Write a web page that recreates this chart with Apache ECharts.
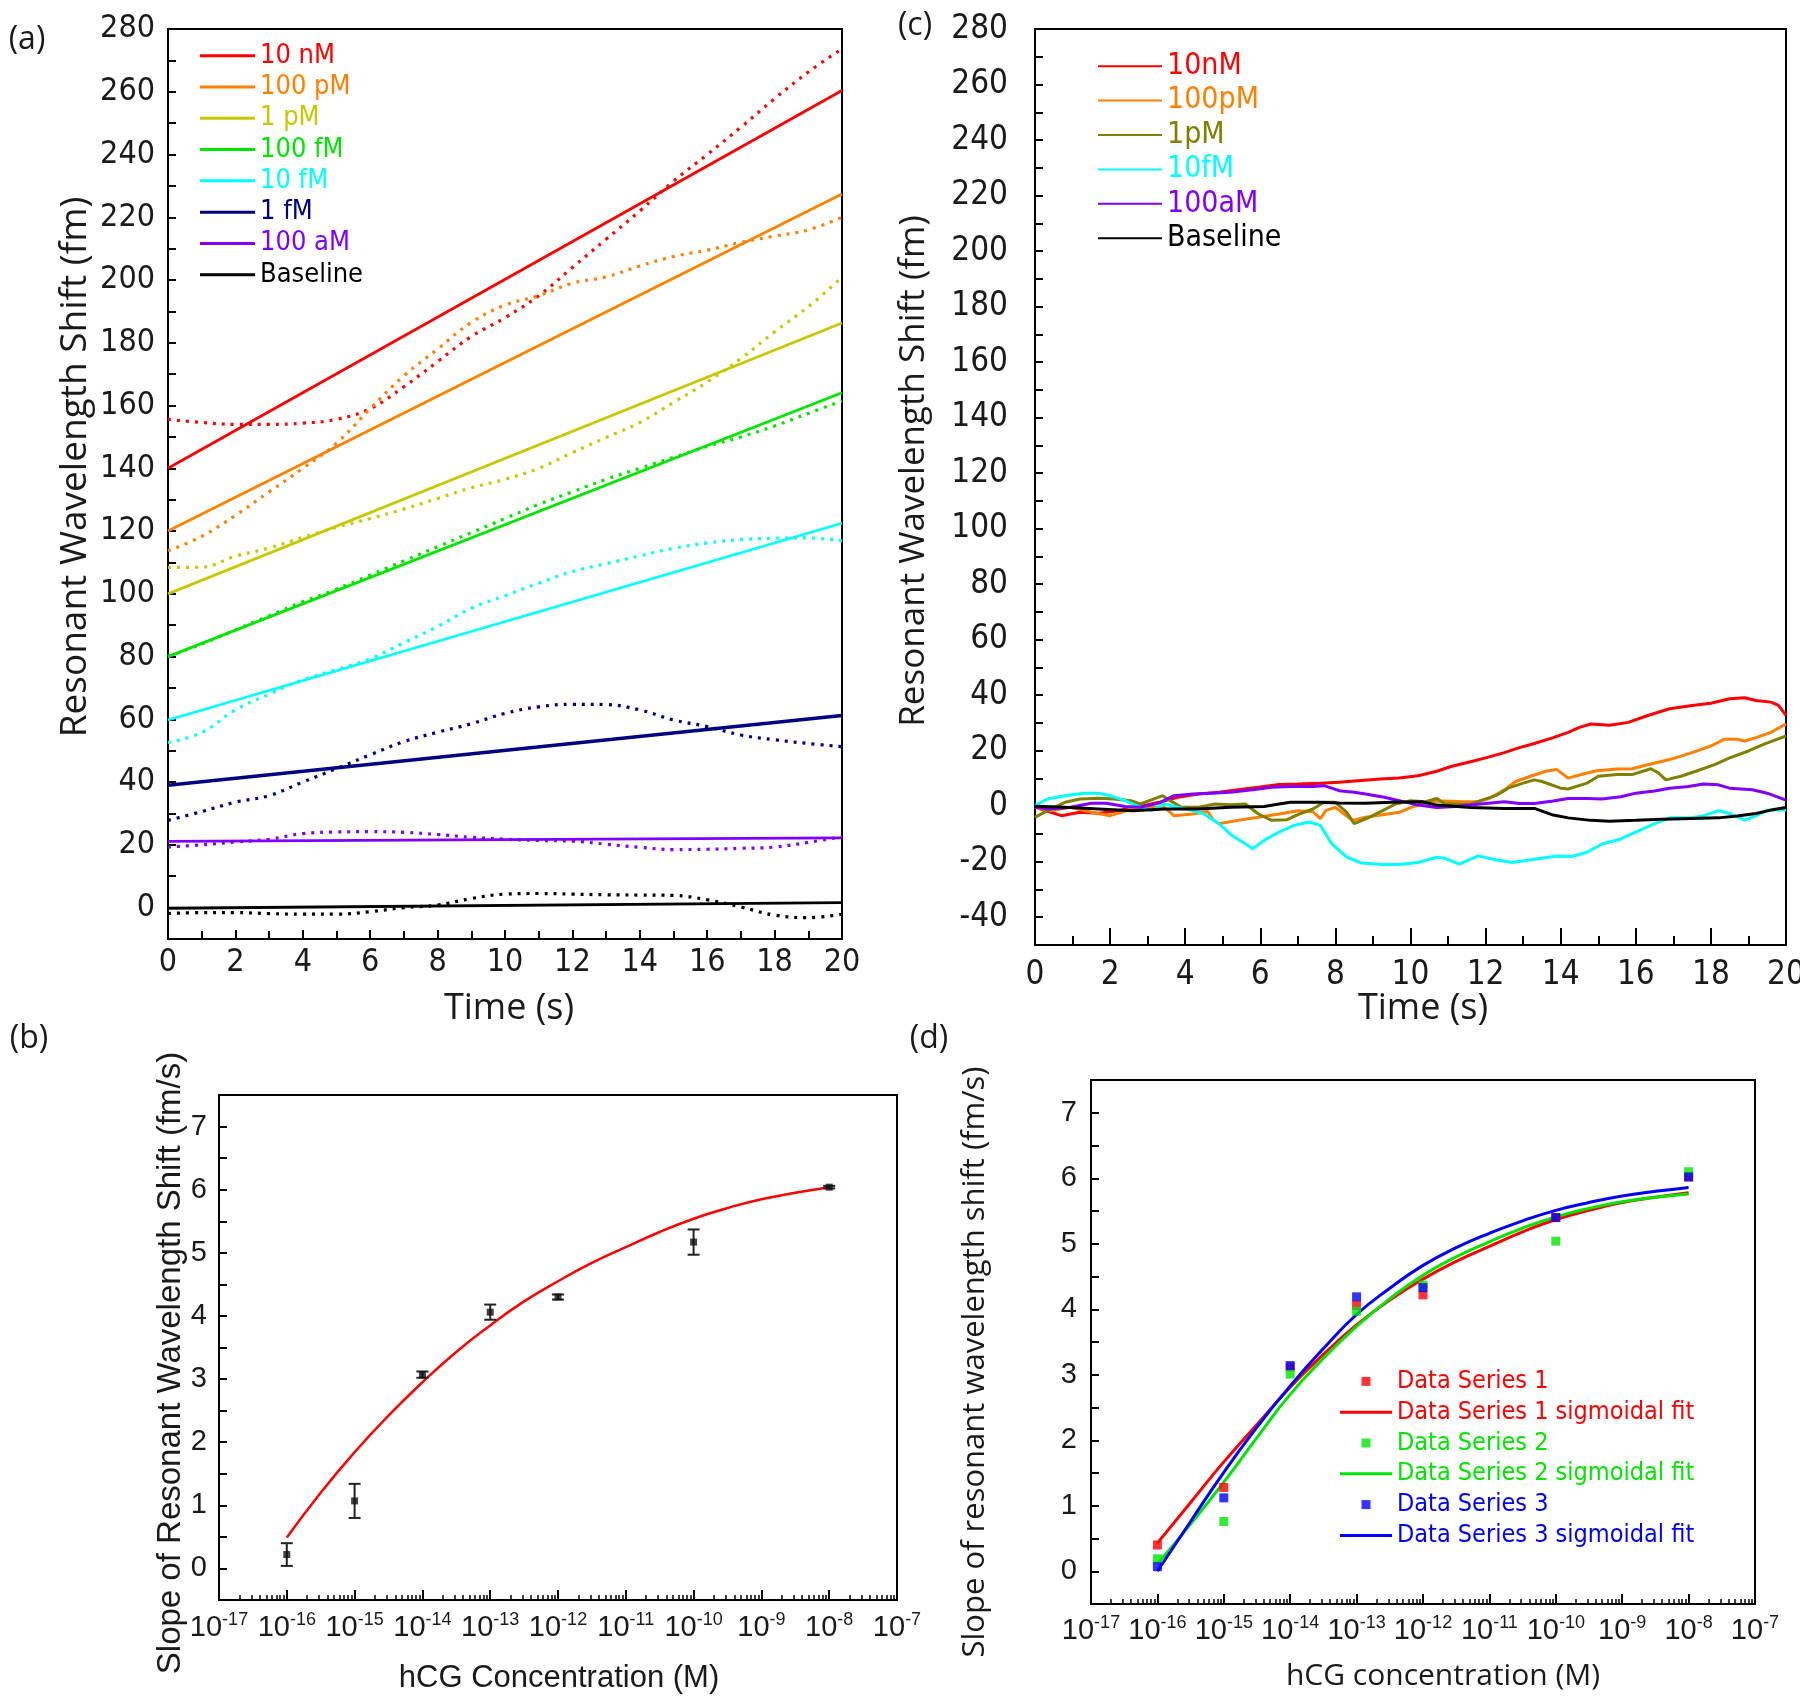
<!DOCTYPE html>
<html><head><meta charset="utf-8">
<script src="https://cdn.jsdelivr.net/npm/echarts@6/dist/echarts.min.js"></script>
<style>html,body{margin:0;padding:0;background:#fff}#chart{width:1800px;height:1702px}</style>
</head><body><div id="chart"></div>
<script>
// ================= DATA =================
// ---- Panel (a): fitted lines + measured (dotted) traces ----
const namesA = ['10 nM','100 pM','1 pM','100 fM','10 fM','1 fM','100 aM','Baseline'];
const fitTimeA = [0, 20];
const fitStartA = [140, 120, 100, 80, 59.8, 39, 21.1, -0.2];
const fitEndA   = [260.4, 227.4, 186.3, 164.1, 122.5, 61.2, 22.2, 1.6];
const timeA = [0,1,2,3,4,5,6,7,8,9,10,11,12,13,14,15,16,17,18,19,20];
const dot10nM   = [155.6,154.6,154,154,154.4,155.6,159,166,174,182,188,195,204,213,222,231.5,240,248.7,257.8,266.3,273.7];
const dot100pM  = [113.7,118.3,125,132.5,140,148,159,169.5,178,186.5,192,195,199,201,204.5,207.5,209.5,212,214,216,220];
const dot1pM    = [108.4,108.5,112,114.6,118,121.2,124,127,130.4,133.8,136.5,140,145,149.8,154.6,161,167.5,175,183.5,191.5,200.9];
const dot100fM  = [80,84,88.5,93,97.5,101.5,106,110.5,115,119.5,124,128.5,132.5,136.5,140,143.5,147,150,153.5,157.5,161.5];
const dot10fM   = [52.6,55.8,63,68,72.6,75.8,79.3,84.4,89.6,95.4,99.4,103.4,107.1,109.6,112.1,114.5,116.2,117.3,117.7,117.8,116.9];
const dot1fM    = [27.8,30.6,33.6,35.7,40,44.3,48.7,52.9,55.9,58.6,61.9,64,64.8,64.7,63,59.8,57.7,55,53.5,52.3,51.3];
const dot100aM  = [19.3,20,20.9,21.8,23.6,24.1,24.2,24,23.3,22.4,21.8,21.4,21.2,20.2,19.2,18.5,18.6,18.9,19.3,20.8,22.6];
const dotBase   = [-1.9,-1.6,-1.6,-1.9,-2.1,-2.1,-1.3,0,0.8,2.9,4.3,4.5,4.3,4.1,4,3.9,2.5,0.2,-2.4,-3.2,-2.1];
const dotsA = [dot10nM, dot100pM, dot1pM, dot100fM, dot10fM, dot1fM, dot100aM, dotBase];

// ---- Panel (c): control traces [time s, shift fm] ----
const namesC = ['10nM','100pM','1pM','10fM','100aM','Baseline '];
const c10nM = [[0,0],[0.15,-1],[0.7,-3.4],[1.2,-2.2],[1.7,-2.5],[2.2,-1.6],[2.7,-0.4],[3.3,1.4],[3.8,3.2],[4.35,4.4],[4.9,5],[5.4,5.9],[5.95,6.8],[6.5,7.8],[7,8],[7.6,8.3],[8.1,8.6],[8.6,9.2],[9.2,9.8],[9.7,10.2],[10.2,11],[10.7,12.6],[11.1,14.4],[11.6,16],[12,17.4],[12.5,19.3],[12.9,21.1],[13.3,22.6],[13.8,24.7],[14.2,26.6],[14.5,28.4],[14.8,29.6],[15.3,29.2],[15.8,30.2],[16.3,32.6],[16.9,35.1],[17.5,36.3],[18,37.1],[18.5,38.7],[18.9,39.1],[19.2,38.1],[19.6,37.5],[19.8,36.3],[20,32.7]];
const c100pM = [[0,-0.4],[0.4,-1.6],[0.95,-0.4],[1.5,-2.2],[2,-3.4],[2.3,-2.2],[2.56,-1],[3.1,-0.4],[3.45,-0.4],[3.7,-3.4],[4.2,-2.8],[4.6,-1.9],[4.75,-5],[4.9,-6.3],[5.4,-5.1],[5.95,-4],[6.5,-2.8],[7,-1.6],[7.4,-2],[7.6,-4.5],[7.75,-1.5],[8,-0.4],[8.45,-5.1],[8.8,-4],[9.3,-3],[9.7,-2.2],[10.1,0],[10.5,1.6],[10.9,1.9],[11.4,1.6],[11.8,1.6],[12.1,2.8],[12.5,5.9],[12.8,8.9],[13.2,10.8],[13.6,12.6],[13.9,13.2],[14.2,10.1],[14.6,11.6],[14.96,12.8],[15.5,13.4],[15.9,13.5],[16.4,15.2],[16.9,16.8],[17.5,19.3],[18,21.7],[18.35,24.1],[18.7,24.1],[18.9,23.5],[19.2,24.7],[19.6,26.6],[20,29.6]];
const c1pM = [[0,-4],[0.33,-1.6],[0.8,1.4],[1.2,2.6],[1.7,2.9],[2.1,2.6],[2.56,2],[2.8,0.8],[3.1,2.3],[3.4,3.8],[3.6,2],[3.9,-0.4],[4.35,-0.4],[4.8,0.8],[5.2,0.5],[5.6,0.8],[5.95,-2.8],[6.3,-5.1],[6.7,-4.9],[7,-3],[7.4,-1],[7.7,1.4],[8,1.4],[8.3,-2.2],[8.5,-6.3],[8.9,-4],[9.26,-1.6],[9.6,0.8],[10,2],[10.4,1.6],[10.7,2.8],[10.9,1],[11.2,0.7],[11.6,0.7],[11.9,2.2],[12.3,4],[12.6,6.5],[13,8.3],[13.3,9.5],[13.5,8.9],[14,6.5],[14.2,6.2],[14.7,8.3],[15,10.8],[15.5,11.4],[15.9,11.4],[16.4,13.5],[16.6,12],[16.8,9.5],[17.2,10.8],[17.6,12.6],[18.1,15],[18.5,17.4],[19,19.9],[19.4,22.3],[20,25.3]];
const c10fM = [[0,0.2],[0.33,2.6],[0.8,3.8],[1.3,4.7],[1.7,4.7],[2,3.8],[2.4,2],[2.7,0.2],[3.1,-1.6],[3.45,0.8],[3.8,-0.4],[4.2,-1.6],[4.5,-2.8],[4.9,-6.3],[5.24,-10.5],[5.6,-13.5],[5.8,-15.3],[6.1,-12.3],[6.5,-9.3],[6.9,-6.9],[7.3,-5.7],[7.6,-6.9],[7.9,-13.5],[8.3,-18.3],[8.7,-20.5],[9.26,-21],[9.7,-21],[10.2,-20.3],[10.7,-18.4],[10.9,-18.7],[11.3,-20.9],[11.8,-17.9],[12.2,-19.1],[12.7,-20.3],[13.3,-19.1],[13.9,-17.9],[14.3,-18.1],[14.7,-16.6],[15.1,-13.6],[15.6,-11.8],[16,-9.3],[16.5,-6.3],[16.9,-4.2],[17.4,-4.2],[17.8,-3.5],[18.2,-1.6],[18.5,-2.6],[18.9,-5],[19.2,-3.5],[19.5,-1.4],[20,-1.4]];
const c100aM = [[0,-0.4],[0.4,-1],[0.95,-0.4],[1.5,1.1],[1.9,1.1],[2.4,-0.1],[2.8,-0.4],[3.3,1.1],[3.7,3.8],[4.2,4.4],[4.7,4.7],[5.2,5],[5.8,5.9],[6.3,6.8],[6.8,7.1],[7.4,7.1],[7.7,7.4],[8.1,5.6],[8.5,5],[8.8,4.4],[9.3,3.2],[9.7,2],[10.2,0.4],[10.7,-0.5],[11.1,-0.2],[11.6,0.4],[12,1],[12.5,1.6],[12.9,1],[13.3,1],[13.8,1.9],[14.2,2.8],[14.7,2.8],[15.1,2.6],[15.6,3.4],[16,4.7],[16.5,5.5],[16.9,6.5],[17.4,7.1],[17.8,8],[18.2,7.7],[18.5,6.5],[19.1,5.9],[19.5,4.7],[20,2.2]];
const cBase = [[0,0],[0.8,-0.4],[1.7,-1],[2.6,-1.6],[3.45,-1],[4.35,-1],[5.2,-0.4],[6.1,-0.1],[6.5,0.8],[6.8,1.4],[7.6,1.4],[8.1,1.2],[8.8,1.1],[9.5,1.4],[10.3,1.6],[10.7,0.4],[11.6,-0.5],[12.5,-0.8],[13.3,-0.8],[13.8,-3.2],[14.2,-4.2],[14.8,-5.1],[15.3,-5.4],[16,-5.1],[16.7,-4.7],[17.5,-4.4],[18.2,-4.2],[18.7,-3.5],[19.2,-2.6],[19.6,-1.4],[20,-0.5]];
const curvesC = [c10nM, c100pM, c1pM, c10fM, c100aM, cBase];

// ---- Panel (b): slope vs concentration with error bars + fit ----
const concB  = [1e-16, 1e-15, 1e-14, 1e-13, 1e-12, 1e-10, 1e-8];
const slopeB = [0.22, 1.07, 3.07, 4.06, 4.30, 5.17, 6.04];
const errB   = [0.18, 0.27, 0.05, 0.12, 0.04, 0.20, 0.02];
const fitConcB = [1e-16,3.16e-16,1e-15,3.16e-15,1e-14,3.16e-14,1e-13,3.16e-13,1e-12,3.16e-12,1e-11,3.16e-11,1e-10,3.16e-10,1e-9,3.16e-9,1e-8];
const fitValB  = [0.49,1.2,1.84,2.42,2.95,3.43,3.85,4.23,4.55,4.84,5.09,5.33,5.54,5.71,5.85,5.95,6.04];

// ---- Panel (d): three data series + sigmoidal fits ----
const concD = [1e-16, 1e-15, 1e-14, 1e-13, 1e-12, 1e-10, 1e-8];
const ds1 = [0.40, 1.28, 3.12, 4.06, 4.22, 5.40, 6.02];
const ds2 = [0.19, 0.76, 3.01, 3.97, 4.37, 5.04, 6.10];
const ds3 = [0.07, 1.12, 3.14, 4.19, 4.33, 5.40, 6.02];
const fitConcD = [1e-16,3.16e-16,1e-15,3.16e-15,1e-14,3.16e-14,1e-13,3.16e-13,1e-12,3.16e-12,1e-11,3.16e-11,1e-10,3.16e-10,1e-9,3.16e-9,1e-8];
const fit1 = [0.43,1.05,1.67,2.24,2.81,3.31,3.76,4.14,4.46,4.73,4.96,5.18,5.37,5.51,5.63,5.71,5.78];
const fit2 = [0.11,0.72,1.36,2.04,2.70,3.25,3.74,4.16,4.52,4.80,5.03,5.24,5.41,5.54,5.64,5.71,5.76];
const fit3 = [0.00,0.76,1.51,2.20,2.83,3.40,3.92,4.32,4.67,4.94,5.16,5.35,5.51,5.63,5.73,5.80,5.86];

// ---- Tick labels ----
const decadeTicks = [1e-17,1e-16,1e-15,1e-14,1e-13,1e-12,1e-11,1e-10,1e-9,1e-8,1e-7];

// ================= STYLE / BUILD =================
const NARROW = '"Liberation Sans Narrow", "Arial Narrow", "DejaVu Sans Condensed", Roboto, sans-serif';
const SANS = '"Liberation Sans", Arial, sans-serif';
const OPEN = '"Open Sans", sans-serif';
const INK = '#1a1a1a';
const colorsA = ['#ff0000','#ff7f00','#c8c800','#00e600','#00ffff','#000080','#8000ff','#000000'];
const colorsC = ['#ff0000','#ff8000','#808000','#00ffff','#8000ff','#000000'];
const colorsD = ['#ff0000','#00e600','#0000ff'];

const minorTicks = [];
decadeTicks.slice(0, -1).forEach(d => { for (let k = 2; k <= 9; k++) minorTicks.push(k * d); });

const gridBase = {show: true, borderColor: '#000', borderWidth: 2, backgroundColor: 'transparent', containLabel: false, outerBoundsMode: 'none'};
const grids = [
  Object.assign({left: 168, top: 29, width: 674, height: 910}, gridBase),
  Object.assign({left: 1035, top: 29, width: 751, height: 916}, gridBase),
  Object.assign({left: 219, top: 1095, width: 678, height: 505}, gridBase),
  Object.assign({left: 1091, top: 1080, width: 664, height: 524}, gridBase)
];

const line = {show: true, onZero: false, lineStyle: {color: '#000', width: 2}};
const noSplit = {show: false};

function valAxis(grid, min, max, interval, tickLen, labelOpt, minor) {
  return {
    type: 'value', gridIndex: grid, min, max, interval,
    axisLine: line, splitLine: noSplit, minorSplitLine: noSplit,
    axisTick: {show: true, inside: true, length: tickLen, lineStyle: {color: '#000', width: 2}},
    minorTick: minor || {show: false},
    axisLabel: labelOpt
  };
}
const supLabel = (size, margin) => ({
  customValues: decadeTicks, margin, color: INK, fontFamily: SANS, fontSize: size, lineHeight: 34,
  formatter: v => '10{s|' + Math.round(Math.log10(v)) + '}',
  rich: {s: {fontSize: 18, fontFamily: SANS, color: INK, verticalAlign: 'top', lineHeight: 16}}
});
function logAxes(grid, margin) {
  return [{
    type: 'log', logBase: 10, gridIndex: grid, min: decadeTicks[0], max: decadeTicks[decadeTicks.length - 1], position: 'bottom',
    axisLine: line, splitLine: noSplit,
    axisTick: {show: true, inside: true, length: 10, customValues: decadeTicks, lineStyle: {color: '#000', width: 2}},
    axisLabel: supLabel(29, margin)
  }, {
    type: 'log', logBase: 10, gridIndex: grid, min: decadeTicks[0], max: decadeTicks[decadeTicks.length - 1], position: 'bottom',
    axisLine: {show: false, onZero: false}, splitLine: noSplit, axisLabel: {show: false},
    axisTick: {show: true, inside: true, length: 5, customValues: minorTicks, lineStyle: {color: '#000', width: 1.5}}
  }];
}

const xAxes = [
  valAxis(0, 0, 20, 2, 9, {margin: 8, color: INK, fontFamily: NARROW, fontSize: 32}, {show: true, splitNumber: 2, length: 8, lineStyle: {color: '#000', width: 2}}),
  valAxis(1, 0, 20, 2, 17, {margin: 14, color: INK, fontFamily: NARROW, fontSize: 33}, {show: true, splitNumber: 2, length: 9, lineStyle: {color: '#000', width: 2}}),
  ...logAxes(2, 11),
  ...logAxes(3, 10)
];
const yAxes = [
  valAxis(0, -10, 280, 10, 8, {margin: 13, color: INK, fontFamily: NARROW, fontSize: 32, formatter: v => (v % 20 === 0 ? String(v) : '')}),
  valAxis(1, -50, 280, 10, 8, {margin: 27, color: INK, fontFamily: NARROW, fontSize: 33, formatter: v => (v % 20 === 0 ? String(v) : '')}),
  valAxis(2, -0.5, 7.5, 0.5, 8, {margin: 12, color: INK, fontFamily: SANS, fontSize: 29, formatter: v => (Number.isInteger(v) ? String(v) : '')}),
  valAxis(3, -0.5, 7.5, 0.5, 8, {margin: 14, color: INK, fontFamily: SANS, fontSize: 29, formatter: v => (Number.isInteger(v) ? String(v) : '')})
];

const series = [];
// (a) measured dotted traces
namesA.forEach((n, i) => {
  series.push({
    type: 'line', name: n + ' measured', xAxisIndex: 0, yAxisIndex: 0, symbol: 'none', smooth: 0.4,
    data: timeA.map((t, k) => [t, dotsA[i][k]]),
    lineStyle: {color: colorsA[i], width: 3.2, type: [3, 6]}, itemStyle: {color: colorsA[i]}, z: 2
  });
});
// (a) linear fits
namesA.forEach((n, i) => {
  series.push({
    type: 'line', name: n, xAxisIndex: 0, yAxisIndex: 0, symbol: 'none',
    data: [[fitTimeA[0], fitStartA[i]], [fitTimeA[1], fitEndA[i]]],
    lineStyle: {color: colorsA[i], width: i === 5 ? 3.5 : 2.8}, itemStyle: {color: colorsA[i]}, z: 3
  });
});
// (c)
namesC.forEach((n, i) => {
  series.push({
    type: 'line', name: n, xAxisIndex: 1, yAxisIndex: 1, symbol: 'none',
    data: curvesC[i], lineStyle: {color: colorsC[i], width: 3}, itemStyle: {color: colorsC[i]}
  });
});
// (b)
series.push({
  type: 'line', name: 'fit b', xAxisIndex: 2, yAxisIndex: 2, symbol: 'none', smooth: true,
  data: fitConcB.map((c, k) => [c, fitValB[k]]), lineStyle: {color: '#ff0000', width: 2.5}, itemStyle: {color: '#ff0000'}
});
series.push({
  type: 'custom', name: 'err b', xAxisIndex: 2, yAxisIndex: 2,
  data: concB.map((c, k) => [c, slopeB[k], errB[k]]),
  encode: {x: 0, y: 1},
  renderItem: (params, api) => {
    const x = api.value(0), y = api.value(1), e = api.value(2);
    const top = api.coord([x, y + e]), bot = api.coord([x, y - e]);
    const w = 6, st = {stroke: '#222', lineWidth: 2};
    return {type: 'group', children: [
      {type: 'line', shape: {x1: top[0], y1: top[1], x2: bot[0], y2: bot[1]}, style: st},
      {type: 'line', shape: {x1: top[0] - w, y1: top[1], x2: top[0] + w, y2: top[1]}, style: st},
      {type: 'line', shape: {x1: bot[0] - w, y1: bot[1], x2: bot[0] + w, y2: bot[1]}, style: st}
    ]};
  }, z: 4
});
series.push({
  type: 'scatter', name: 'points b', xAxisIndex: 2, yAxisIndex: 2, symbol: 'rect', symbolSize: 7,
  data: concB.map((c, k) => [c, slopeB[k]]), itemStyle: {color: '#111'}, z: 5
});
// (d)
const fitsD = [fit1, fit2, fit3];
const dsD = [ds1, ds2, ds3];
[0, 1, 2].forEach(i => {
  series.push({
    type: 'line', name: 'Data Series ' + (i + 1) + ' sigmoidal fit', xAxisIndex: 4, yAxisIndex: 3, symbol: 'none', smooth: true,
    data: fitConcD.map((c, k) => [c, fitsD[i][k]]), lineStyle: {color: colorsD[i], width: 3}, itemStyle: {color: colorsD[i]}, z: 2
  });
});
[0, 1, 2].forEach(i => {
  series.push({
    type: 'scatter', name: 'Data Series ' + (i + 1), xAxisIndex: 4, yAxisIndex: 3, symbol: 'rect', symbolSize: 9,
    data: concD.map((c, k) => [c, dsD[i][k]]), itemStyle: {color: colorsD[i]}, z: 5
  });
});

const SQ = 'path://M0,0h10v10h-10z';
const barIcon = (w, h) => 'path://M0,0h' + w + 'v' + h + 'h-' + w + 'z';
const legends = [
  {
    data: namesA.map((n, i) => ({name: n, icon: barIcon(55, 3), itemStyle: {color: colorsA[i]}, textStyle: {color: colorsA[i]}})),
    orient: 'vertical', left: 200, top: 40, padding: 0, itemGap: 0, itemWidth: 55, itemHeight: 14,
    selectedMode: false, symbolKeepAspect: true, textStyle: {fontFamily: NARROW, fontSize: 27, lineHeight: 31.3}
  },
  {
    data: namesC.map((n, i) => ({name: n, icon: barIcon(64, 2), itemStyle: {color: colorsC[i]}, textStyle: {color: colorsC[i]}})),
    orient: 'vertical', left: 1098, top: 49, padding: 0, itemGap: 0, itemWidth: 64, itemHeight: 14,
    selectedMode: false, symbolKeepAspect: true, textStyle: {fontFamily: NARROW, fontSize: 30, lineHeight: 34.4}
  },
  {
    data: [0, 1, 2].flatMap(i => [
      {name: 'Data Series ' + (i + 1), icon: SQ, itemStyle: {color: colorsD[i]}, textStyle: {color: colorsD[i]}},
      {name: 'Data Series ' + (i + 1) + ' sigmoidal fit', icon: barIcon(52, 3), itemStyle: {color: colorsD[i]}, textStyle: {color: colorsD[i]}}
    ]),
    orient: 'vertical', left: 1340, top: 1366, padding: 0, itemGap: 0, itemWidth: 52, itemHeight: 9,
    selectedMode: false, symbolKeepAspect: true, textStyle: {fontFamily: NARROW, fontSize: 25, lineHeight: 30.8}
  }
];

const T = (text, x, y, size, family, rot) => ({
  type: 'text', x, y, rotation: rot || 0, silent: true,
  style: {text, fontSize: size, fontFamily: family, fill: INK, align: 'center', verticalAlign: 'middle', textAlign: 'center', textVerticalAlign: 'middle'}
});
const graphics = [
  T('(a)', 27, 40, 32, OPEN),
  T('(c)', 915, 26, 32, OPEN),
  T('(b)', 29, 1039, 32, OPEN),
  T('(d)', 929, 1039, 32, OPEN),
  T('Resonant Wavelength Shift (fm)', 75, 467, 37, OPEN, Math.PI / 2),
  T('Time (s)', 509, 1009, 36, OPEN),
  T('Resonant Wavelength Shift (fm)', 914, 471, 35, OPEN, Math.PI / 2),
  T('Time (s)', 1423, 1009, 36, OPEN),
  T('Slope of Resonant Wavelength Shift (fm/s)', 171, 1363, 33, SANS, Math.PI / 2),
  T('hCG Concentration (M)', 559, 1678, 31, SANS),
  T('Slope of resonant wavelength shift (fm/s)', 975, 1362, 31, OPEN, Math.PI / 2),
  T('hCG concentration (M)', 1443, 1676, 30, OPEN)
];

const chart = echarts.init(document.getElementById('chart'), null, {renderer: 'canvas'});
chart.setOption({
  animation: false,
  backgroundColor: '#ffffff',
  grid: grids,
  xAxis: xAxes,
  yAxis: yAxes,
  legend: legends,
  graphic: graphics,
  series
});
</script>
</body></html>
